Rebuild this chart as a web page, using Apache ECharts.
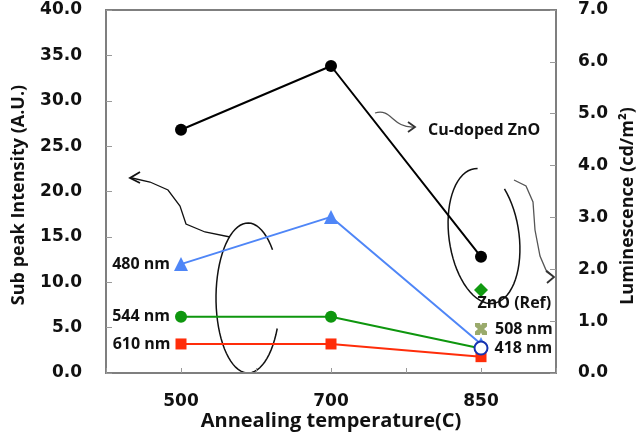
<!DOCTYPE html>
<html><head><meta charset="utf-8">
<script src="https://cdn.jsdelivr.net/npm/echarts@6/dist/echarts.min.js"></script>
<style>html,body{margin:0;padding:0;background:#fff}#c{width:641px;height:445px}</style>
</head><body><div id="c"></div>
<script>
// ---- data ----
const categories = ['500', '700', '850'];
const leftTicks = [0, 5, 10, 15, 20, 25, 30, 35, 40];
const rightTicks = [0, 1, 2, 3, 4, 5, 6, 7];
const cuDopedZnO = [4.69, 5.92, 2.24];   // luminescence (right axis)
const znoRef = [null, null, 1.6];        // luminescence (right axis)
const nm480 = [12.0, 17.2, 3.2];         // sub peak intensity (left axis)
const nm544 = [6.2, 6.2, 2.7];
const nm610 = [3.2, 3.2, 1.8];
const nm508 = [null, null, 4.85];
const nm418 = [null, null, 2.75];

const chart = echarts.init(document.getElementById('c'), null, {renderer: 'canvas'});
const LBL = {fontFamily: 'Open Sans', fontWeight: 'bold', fontSize: 16, color: '#111'};

function withLabel(arr, idx, label) {
  return arr.map((v, i) => i === idx ? {value: v, label: Object.assign({show: true}, LBL, label)} : v);
}
function ellipsePts(cx, cy, rx, ry, a0, a1, rot) {
  const pts = [];
  const n = 60;
  const r = (rot || 0) * Math.PI / 180;
  for (let i = 0; i <= n; i++) {
    const a = (a0 + (a1 - a0) * i / n) * Math.PI / 180;
    const x = rx * Math.cos(a), y = ry * Math.sin(a);
    pts.push([cx + x * Math.cos(r) - y * Math.sin(r), cy + x * Math.sin(r) + y * Math.cos(r)]);
  }
  return pts;
}
const tickFont = {fontFamily: 'DejaVu Sans', fontWeight: 'bold', fontSize: 17, color: '#111'};
const lineStroke = {stroke: '#111', lineWidth: 1.5, fill: null};

const option = {
  animation: false,
  grid: {left: 106, right: 85, top: 10, bottom: 72, show: true, borderColor: '#7f7f7f', borderWidth: 2},
  xAxis: [
    {type: 'category', data: categories, boundaryGap: true,
     axisLine: {lineStyle: {color: '#7f7f7f', width: 2}},
     axisTick: {show: false},
     axisLabel: Object.assign({margin: 20}, tickFont)},
    {type: 'category', data: ['a','b','c','d','e','f'], boundaryGap: true, position: 'bottom',
     axisLine: {show: false}, axisLabel: {show: false},
     axisTick: {show: true, inside: true, length: 5, lineStyle: {color: '#9a9a9a', width: 1}}}
  ],
  yAxis: [
    {type: 'value', min: 0, max: 40, interval: 5, position: 'left',
     axisLine: {show: true, lineStyle: {color: '#7f7f7f', width: 2}},
     axisTick: {show: true, inside: true, length: 6, lineStyle: {color: '#9a9a9a'}},
     splitLine: {show: false},
     axisLabel: Object.assign({margin: 24, formatter: v => v.toFixed(1)}, tickFont)},
    {type: 'value', min: 0, max: 7, interval: 1, position: 'right',
     axisLine: {show: true, lineStyle: {color: '#7f7f7f', width: 2}},
     axisTick: {show: true, inside: true, length: 6, lineStyle: {color: '#9a9a9a'}},
     splitLine: {show: false},
     axisLabel: Object.assign({margin: 22, formatter: v => v.toFixed(1)}, tickFont)}
  ],
  series: [
    {name: 'Cu-doped ZnO', type: 'line', yAxisIndex: 1, data: cuDopedZnO,
     symbol: 'circle', symbolSize: 12, lineStyle: {color: '#000', width: 2}, itemStyle: {color: '#000'}, z: 5},
    {name: '610 nm', type: 'line', data: withLabel(nm610, 0, {position: 'left', distance: 5, formatter: '610 nm'}),
     symbol: 'rect', symbolSize: 11, lineStyle: {color: '#ff2d0a', width: 2}, itemStyle: {color: '#ff2d0a'}, z: 3},
    {name: '544 nm', type: 'line', data: withLabel(nm544, 0, {position: 'left', distance: 5, formatter: '544 nm'}),
     symbol: 'circle', symbolSize: 12, lineStyle: {color: '#0e960e', width: 2}, itemStyle: {color: '#0e960e'}, z: 4},
    {name: '480 nm', type: 'line', data: withLabel(nm480, 0, {position: 'left', distance: 4, formatter: '480 nm'}),
     symbol: 'triangle', symbolSize: 14, lineStyle: {color: '#4f86f7', width: 2}, itemStyle: {color: '#4f86f7'}, z: 3},
    {name: 'ZnO (Ref)', type: 'line', yAxisIndex: 1,
     data: withLabel(znoRef, 2, {position: [3.5, 12], formatter: 'ZnO (Ref)'}),
     symbol: 'diamond', symbolSize: 14, itemStyle: {color: '#119a11'}, lineStyle: {width: 0}, z: 5},
    {name: '508 nm', type: 'line', data: withLabel(nm508, 2, {position: 'right', distance: 8, formatter: '508 nm'}),
     symbol: 'path://M0,0 L4,0 L5,2 L6,0 L10,0 L10,3 L7.5,5 L10,7 L10,10 L6,10 L5,8 L4,10 L0,10 L0,7 L2.5,5 L0,3 Z',
     symbolSize: 12, itemStyle: {color: '#9aaa6c'}, lineStyle: {width: 0}, z: 5},
    {name: '418 nm', type: 'line', data: withLabel(nm418, 2, {position: 'right', distance: 6, formatter: '418 nm'}),
     symbol: 'emptyCircle', symbolSize: 13, itemStyle: {color: '#1633b0', borderWidth: 3}, lineStyle: {width: 0}, z: 6}
  ],
  graphic: [
    {type: 'text', x: 19, y: 195, rotation: Math.PI / 2,
     style: {text: 'Sub peak Intensity (A.U.)', x: 0, y: 0, align: 'center', verticalAlign: 'middle',
             font: 'bold 18px "Open Sans"', fill: '#111'}},
    {type: 'text', x: 628, y: 206, rotation: Math.PI / 2,
     style: {text: 'Luminescence (cd/m²)', x: 0, y: 0, align: 'center', verticalAlign: 'middle',
             font: 'bold 18px "Open Sans"', fill: '#111'}},
    {type: 'text', x: 331, y: 421,
     style: {text: 'Annealing temperature(C)', x: 0, y: 0, align: 'center', verticalAlign: 'middle',
             font: 'bold 20px "Open Sans"', fill: '#111'}},
    {type: 'text', x: 428, y: 130,
     style: {text: 'Cu-doped ZnO', x: 0, y: 0, align: 'left', verticalAlign: 'middle',
             font: 'bold 16px "Open Sans"', fill: '#111'}},
    // small wavy arrow towards "Cu-doped ZnO"
    {type: 'bezierCurve', shape: {x1: 375, y1: 113, cpx1: 392, cpy1: 108, cpx2: 392, cpy2: 128, x2: 414, y2: 127},
     style: {stroke: '#555', lineWidth: 1.3, fill: null}},
    {type: 'polyline', shape: {points: [[408, 122], [415, 127], [408, 132]]}, style: {stroke: '#333', lineWidth: 1.8, fill: null}},
    // left ellipse (C shape, open to the right)
    {type: 'polyline', shape: {points: ellipsePts(248, 298, 32, 75, 24, 320, 0)}, style: lineStroke},
    // left curvy arrow
    {type: 'polyline', shape: {points: [[230, 237], [205, 232], [186, 224], [180, 206], [168, 190], [150, 182], [132, 178]]},
     style: {stroke: '#111', lineWidth: 1.3, fill: null, smooth: 0.4}},
    {type: 'polyline', shape: {points: [[140, 172], [130, 178], [140, 183]]}, style: {stroke: '#111', lineWidth: 1.8, fill: null}},
    // right ellipse (open at upper right)
    {type: 'polyline', shape: {points: ellipsePts(484, 236, 35, 68, -40, 275, -8)}, style: lineStroke},
    // right curvy arrow
    {type: 'polyline', shape: {points: [[514, 180], [526, 186], [533, 202], [535, 230], [540, 256], [546, 270], [553, 276]]},
     style: {stroke: '#555', lineWidth: 1.3, fill: null, smooth: 0.4}},
    {type: 'polyline', shape: {points: [[546, 271], [554, 277], [547, 283]]}, style: {stroke: '#333', lineWidth: 1.8, fill: null}}
  ]
};
chart.setOption(option);
</script></body></html>
